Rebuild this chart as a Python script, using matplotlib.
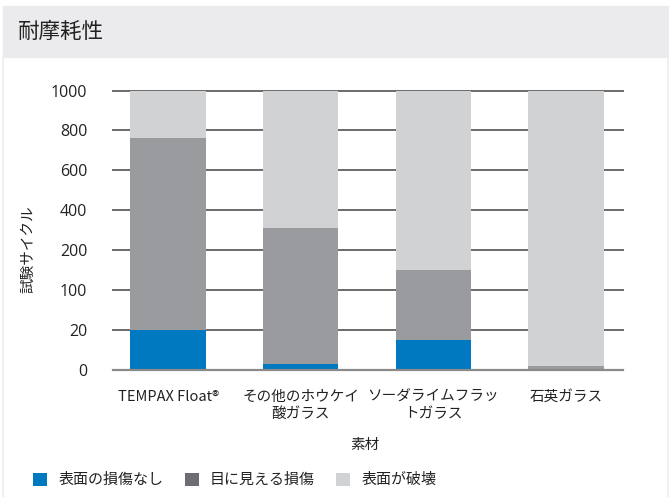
import numpy as np
import matplotlib
matplotlib.use("Agg")
import matplotlib.pyplot as plt
from matplotlib.patches import Rectangle, Patch
from matplotlib.lines import Line2D

plt.rcParams['font.family'] = ['Noto Sans CJK JP', 'DejaVu Sans']

# ---- data ----
categories = ['TEMPAX Float®', 'その他のホウケイ\n酸ガラス', 'ソーダライムフラッ\nトガラス', '石英ガラス']
no_damage = [20, 3, 15, 0]          # 表面の損傷なし
visible_damage = [740, 307, 135, 2]  # 目に見える損傷
destroyed = [240, 690, 850, 998]     # 表面が破壊
series_names = ['表面の損傷なし', '目に見える損傷', '表面が破壊']
y_ticks = [0, 20, 100, 200, 400, 600, 800, 1000]

bar_colors = ['#0079c1', '#9a9b9f', '#d1d2d4']
legend_colors = ['#0079c1', '#6d6e71', '#d1d2d4']

W, H = 669, 497
fig = plt.figure(figsize=(W / 100, H / 100), dpi=100)

def fx(px):
    return px / W

def fy(py):
    return 1 - py / H

# header band and frame
fig.patches.append(Rectangle((fx(3), fy(57)), fx(668) - fx(3), fy(6) - fy(57),
                             transform=fig.transFigure, color='#ebebed', zorder=0))
for xx in (3, 668):
    fig.lines.append(Line2D([fx(xx), fx(xx)], [fy(57), 0], transform=fig.transFigure,
                            color='#ededed', lw=1.2))
fig.text(fx(18), fy(31.5), '耐摩耗性', fontsize=15.5, color='#222222', va='center', ha='left')

ax = fig.add_axes([fx(113), fy(370.3), fx(623) - fx(113), fy(90.5) - fy(370.3)])

pos = np.arange(len(y_ticks), dtype=float)
tv = np.array(y_ticks, dtype=float)

def forward(y):
    return np.interp(y, tv, pos)

def inverse(p):
    return np.interp(p, pos, tv)

ax.set_yscale('function', functions=(forward, inverse))
ax.set_ylim(0, 1000)
ax.set_xlim(-0.415, 3.43)

x = np.arange(len(categories))
bw = 0.57
b1 = np.array(no_damage, dtype=float)
b2 = b1 + np.array(visible_damage, dtype=float)
ax.bar(x, no_damage, width=bw, color=bar_colors[0], zorder=3)
ax.bar(x, visible_damage, bottom=b1, width=bw, color=bar_colors[1], zorder=3)
ax.bar(x, destroyed, bottom=b2, width=bw, color=bar_colors[2], zorder=3)

for t in y_ticks:
    if t == 0:
        ax.axhline(t, color='#8a8a8a', lw=1.6, zorder=4, clip_on=False)
    else:
        ax.axhline(t, color='#6a6a6a', lw=1.4, zorder=1, clip_on=False)

ax.set_yticks(y_ticks)
ax.set_yticklabels([str(t) for t in y_ticks], family=['Open Sans', 'DejaVu Sans'])
ax.set_xticks(x)
ax.set_xticklabels(categories, multialignment='center', linespacing=1.3)
ax.tick_params(axis='y', length=0, pad=18.5, labelsize=11.5, labelcolor='#222222')
ax.tick_params(axis='x', length=0, pad=14, labelsize=10.5, labelcolor='#222222')
ax.minorticks_off()
for s in ax.spines.values():
    s.set_visible(False)

fig.text(fx(365), fy(445), '素材', fontsize=10.5, color='#222222', ha='center', va='center')
fig.text(fx(28), fy(249), '試験サイクル', fontsize=10.5, color='#222222', ha='center',
         va='center', rotation=90)

handles = [Patch(facecolor=c, edgecolor='none') for c in legend_colors]
leg = fig.legend(handles, series_names, loc='center left', bbox_to_anchor=(fx(33), fy(480)),
                 ncol=3, frameon=False, fontsize=10.8, handlelength=0.95, handleheight=0.95,
                 handletextpad=0.75, columnspacing=1.4, borderpad=0, borderaxespad=0)
for t in leg.get_texts():
    t.set_color('#222222')

fig.savefig('out.png', dpi=100)
